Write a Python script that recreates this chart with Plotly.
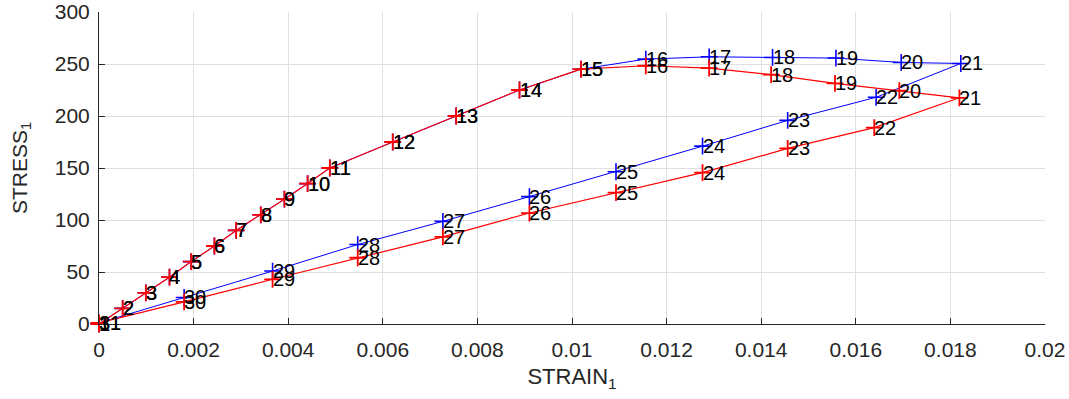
import plotly.graph_objects as go

# Point labels
labels = [str(i) for i in range(1, 32)]

# Series 1 (blue)
strain_blue = [0.0, 0.0005, 0.00099, 0.00149, 0.00195, 0.00244, 0.0029, 0.00342, 0.00392, 0.00441, 0.00488,
               0.00621, 0.00755, 0.00889, 0.01019, 0.01156, 0.0129, 0.01424, 0.01558, 0.01696, 0.01822,
               0.01643, 0.01456, 0.01276, 0.01093, 0.0091, 0.00727, 0.00547, 0.00367, 0.0018, 0.0]
stress_blue = [0, 15, 30, 45, 60, 75, 90, 105, 120, 135, 150,
               175, 200, 225, 245, 254.7, 256.9, 256.3, 255.7, 251.5, 250.5,
               218, 195.8, 171, 146.4, 122.5, 98.7, 76.4, 50.9, 25.5, 1]

# Series 2 (red)
strain_red = [0.0, 0.0005, 0.00099, 0.00149, 0.00195, 0.00244, 0.0029, 0.00342, 0.00392, 0.00441, 0.00488,
              0.00621, 0.00755, 0.00889, 0.01019, 0.01156, 0.0129, 0.01421, 0.01556, 0.01692, 0.01819,
              0.01639, 0.01456, 0.01276, 0.01093, 0.0091, 0.00727, 0.00547, 0.00367, 0.0018, 0.0]
stress_red = [0, 15, 30, 45, 60, 75, 90, 105, 120, 135, 150,
              175, 200, 225, 245, 248.3, 246, 239.7, 231.4, 224.4, 217.5,
              188.8, 168.8, 145.5, 126.4, 106.7, 83.8, 63.7, 43, 21.3, 1]

x_ticks = [0, 0.002, 0.004, 0.006, 0.008, 0.01, 0.012, 0.014, 0.016, 0.018, 0.02]
x_ticklabels = ["0", "0.002", "0.004", "0.006", "0.008", "0.01", "0.012", "0.014", "0.016", "0.018", "0.02"]
y_ticks = [0, 50, 100, 150, 200, 250, 300]

FONT = "Liberation Sans, Arial, Helvetica, sans-serif"
AX = "#262626"

fig = go.Figure()
for xs, ys, col, lw, mw in [(strain_blue, stress_blue, "#0000ff", 1.0, 1.6),
                            (strain_red, stress_red, "#ff0000", 1.2, 1.8)]:
    fig.add_trace(go.Scatter(
        x=xs, y=ys, mode="lines+markers",
        line=dict(color=col, width=lw),
        marker=dict(symbol="cross-thin", size=12, line=dict(color=col, width=mw)),
        cliponaxis=False, showlegend=False,
    ))

annotations = []
for xs, ys in [(strain_blue, stress_blue), (strain_red, stress_red)]:
    for x, y, t in zip(xs, ys, labels):
        annotations.append(dict(
            x=x, y=y, text=t, showarrow=False, xanchor="left", yanchor="middle",
            xshift=-2, font=dict(family=FONT, size=20, color="black"),
        ))

fig.update_layout(
    width=1069, height=399,
    margin=dict(l=99, r=24, t=12, b=75),
    paper_bgcolor="white", plot_bgcolor="white",
    font=dict(family=FONT, size=21, color=AX),
    annotations=annotations,
    xaxis=dict(
        range=[0, 0.02], tickvals=x_ticks, ticktext=x_ticklabels, automargin=False,
        showgrid=True, gridcolor="#e0e0e0", gridwidth=1, zeroline=False,
        showline=True, linecolor=AX, linewidth=1, mirror=False,
        ticks="inside", ticklen=6, tickcolor=AX, ticklabelstandoff=7, ticklabeloverflow="allow",
        title=dict(text="STRAIN<sub>1</sub>", font=dict(size=22, color=AX), standoff=8),
    ),
    yaxis=dict(
        range=[0, 300], tickvals=y_ticks, automargin=False,
        showgrid=True, gridcolor="#e0e0e0", gridwidth=1, zeroline=False,
        showline=True, linecolor=AX, linewidth=1, mirror=False,
        ticks="inside", ticklen=6, tickcolor=AX, ticklabelstandoff=4, ticklabeloverflow="allow",
        title=dict(text="STRESS<sub>1</sub>", font=dict(size=21, color=AX), standoff=21),
    ),
)

# remove the page's default 8px body margin so the figure sits at the window's corner
fig.write_html("out.html", config={"displayModeBar": False},
               post_script="document.body.style.margin='0';")
